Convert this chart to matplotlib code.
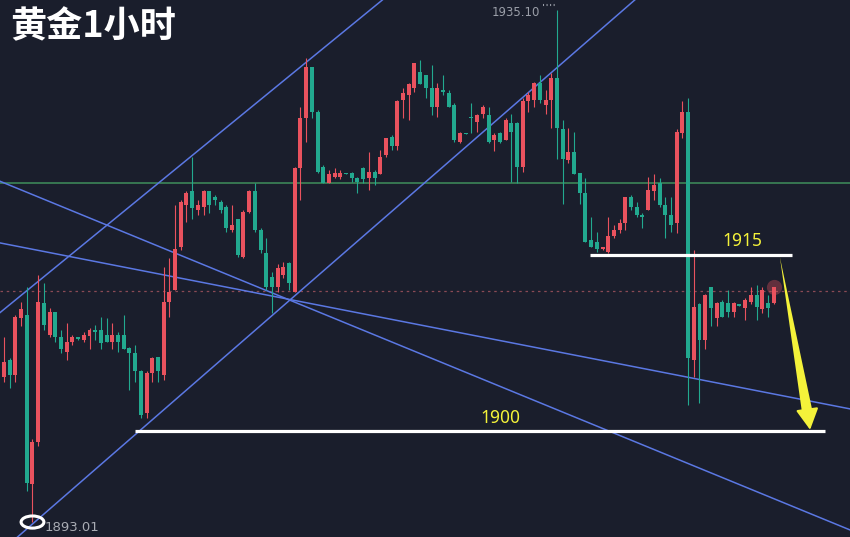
import numpy as np
import matplotlib.pyplot as plt
from matplotlib.patches import Ellipse

opens = [1904.9, 1906.3, 1905.1, 1909.8, 1910.0, 1896.1, 1899.6, 1911.0, 1908.4, 1910.3,
         1908.2, 1907.0, 1907.8, 1908.2, 1908.0, 1908.3, 1908.8, 1908.8, 1908.4, 1907.8,
         1908.4, 1908.4, 1907.3, 1906.9, 1905.4, 1902.0, 1905.3, 1906.6, 1905.1, 1911.1,
         1912.1, 1915.6, 1919.1, 1920.2, 1918.7, 1918.9, 1920.2, 1919.7, 1919.3, 1918.9,
         1917.0, 1917.9, 1914.8, 1918.5, 1920.2, 1917.0, 1915.1, 1913.2, 1912.3, 1913.3,
         1914.3, 1911.9, 1922.1, 1926.2, 1930.4, 1926.7, 1922.2, 1920.9, 1921.4, 1921.4,
         1921.7, 1921.7, 1921.3, 1922.1, 1921.3, 1921.8, 1921.6, 1923.2, 1924.7, 1923.9,
         1927.7, 1928.1, 1928.7, 1930.0, 1929.8, 1928.7, 1927.1, 1928.5, 1928.3, 1927.3,
         1924.3, 1925.0, 1926.3, 1925.9, 1926.6, 1926.5, 1924.4, 1925.0, 1924.4, 1925.8,
         1925.8, 1922.2, 1927.6, 1927.7, 1929.1, 1927.3, 1927.7, 1929.5, 1925.3, 1922.8,
         1923.4, 1921.7, 1920.1, 1916.2, 1916.0, 1915.5, 1915.2, 1916.5, 1917.0, 1917.6,
         1919.7, 1918.9, 1918.3, 1918.7, 1920.2, 1920.9, 1919.1, 1918.3, 1917.6, 1925.0,
         1926.7, 1906.3, 1910.9, 1908.0, 1912.3, 1909.8, 1911.1, 1911.0, 1910.3, 1910.9,
         1910.6, 1911.1, 1911.7, 1910.5, 1911.0, 1911.0]

highs = [1908.2, 1906.5, 1910.0, 1911.1, 1912.3, 1899.8, 1913.3, 1912.7, 1910.6, 1910.3,
         1908.8, 1909.4, 1908.4, 1908.2, 1908.6, 1909.0, 1909.2, 1909.9, 1909.8, 1909.4,
         1908.6, 1910.0, 1907.4, 1907.6, 1905.5, 1905.4, 1906.6, 1906.6, 1914.0, 1914.7,
         1919.1, 1919.5, 1920.2, 1923.0, 1919.5, 1920.3, 1920.2, 1919.9, 1919.5, 1919.1,
         1919.1, 1917.9, 1918.7, 1920.3, 1920.9, 1917.2, 1916.4, 1913.6, 1914.2, 1914.4,
         1914.4, 1922.2, 1927.1, 1931.2, 1930.4, 1926.9, 1922.4, 1922.0, 1922.1, 1922.0,
         1921.7, 1921.8, 1921.4, 1922.2, 1923.4, 1922.0, 1923.6, 1924.6, 1924.8, 1927.7,
         1928.7, 1929.1, 1930.8, 1931.0, 1929.8, 1930.6, 1929.1, 1929.8, 1928.5, 1927.5,
         1925.1, 1925.0, 1927.5, 1926.6, 1927.3, 1927.1, 1925.0, 1925.1, 1926.2, 1926.6,
         1925.9, 1927.9, 1928.4, 1929.2, 1929.8, 1928.5, 1929.9, 1935.1, 1926.1, 1925.4,
         1925.1, 1921.7, 1921.3, 1918.1, 1916.9, 1915.6, 1918.1, 1917.4, 1917.9, 1919.7,
         1919.9, 1919.3, 1918.4, 1921.4, 1921.6, 1921.3, 1919.7, 1919.7, 1925.3, 1927.6,
         1927.9, 1915.4, 1911.0, 1911.8, 1912.3, 1911.1, 1911.3, 1912.1, 1911.1, 1910.9,
         1911.4, 1912.3, 1912.5, 1912.3, 1911.7, 1912.3]

lows = [1904.5, 1904.0, 1904.5, 1909.1, 1895.6, 1893.01, 1899.3, 1908.8, 1908.2, 1907.8,
        1906.9, 1906.3, 1907.6, 1908.0, 1907.8, 1907.2, 1908.0, 1907.2, 1907.8, 1907.2,
        1907.0, 1907.2, 1903.9, 1904.5, 1901.6, 1901.6, 1904.5, 1904.5, 1904.7, 1909.9,
        1912.1, 1915.4, 1917.7, 1917.9, 1918.3, 1918.3, 1918.4, 1919.1, 1918.4, 1916.9,
        1916.9, 1914.8, 1914.7, 1918.4, 1916.9, 1915.1, 1912.1, 1910.2, 1911.9, 1913.1,
        1912.1, 1911.9, 1919.5, 1924.3, 1926.2, 1921.7, 1920.9, 1920.9, 1921.3, 1921.2,
        1921.6, 1921.0, 1920.1, 1920.9, 1920.3, 1920.7, 1921.6, 1923.0, 1923.6, 1923.6,
        1926.2, 1926.1, 1928.4, 1929.0, 1927.9, 1926.5, 1926.3, 1928.1, 1927.1, 1924.3,
        1924.2, 1924.9, 1925.0, 1925.1, 1926.2, 1924.2, 1923.5, 1924.2, 1924.4, 1921.0,
        1920.9, 1921.8, 1926.7, 1927.1, 1927.5, 1926.6, 1925.4, 1922.9, 1919.2, 1922.5,
        1921.6, 1919.2, 1916.0, 1915.6, 1915.2, 1915.4, 1915.1, 1916.4, 1916.8, 1917.0,
        1918.7, 1918.1, 1917.2, 1918.7, 1919.5, 1918.9, 1916.4, 1916.9, 1916.8, 1924.6,
        1902.6, 1904.9, 1902.8, 1907.2, 1909.1, 1909.1, 1909.9, 1909.9, 1909.9, 1910.8,
        1909.6, 1910.9, 1909.6, 1910.2, 1909.9, 1910.9]

closes = [1906.2, 1905.1, 1909.9, 1910.5, 1896.2, 1899.6, 1911.1, 1909.2, 1910.3, 1908.2,
          1907.2, 1907.8, 1908.2, 1908.1, 1908.4, 1908.8, 1908.6, 1907.7, 1907.8, 1908.4,
          1907.8, 1907.2, 1906.9, 1905.4, 1901.8, 1905.3, 1906.5, 1905.4, 1911.1, 1911.9,
          1915.5, 1919.3, 1920.1, 1918.8, 1919.1, 1920.2, 1919.1, 1919.5, 1918.7, 1917.2,
          1917.4, 1915.0, 1918.5, 1920.2, 1917.0, 1915.4, 1912.3, 1912.3, 1913.9, 1914.0,
          1912.7, 1922.1, 1926.2, 1930.4, 1926.7, 1921.8, 1920.9, 1921.6, 1921.7, 1921.7,
          1921.6, 1921.3, 1921.0, 1921.2, 1921.8, 1921.3, 1923.0, 1924.6, 1923.9, 1927.6,
          1928.3, 1929.0, 1930.8, 1929.0, 1928.7, 1927.1, 1928.7, 1928.4, 1927.1, 1924.4,
          1925.0, 1924.9, 1926.2, 1926.5, 1927.1, 1924.3, 1924.8, 1924.3, 1926.1, 1925.1,
          1922.2, 1927.6, 1928.1, 1929.1, 1927.7, 1927.7, 1929.5, 1925.4, 1922.9, 1923.4,
          1921.6, 1920.1, 1916.0, 1915.6, 1915.5, 1915.5, 1916.5, 1917.0, 1917.6, 1919.7,
          1918.9, 1918.3, 1918.1, 1920.3, 1920.7, 1919.1, 1918.3, 1917.4, 1925.1, 1926.7,
          1906.5, 1910.7, 1908.0, 1911.7, 1910.6, 1911.0, 1909.9, 1910.3, 1911.0, 1910.8,
          1911.3, 1911.7, 1910.7, 1912.1, 1910.6, 1912.3]

# trend lines: two anchor points (bar index, price)
trend_lines = [((0, 1910.5), (60, 1933.5)),
               ((24, 1900.6), (100, 1931.6)),
               ((0, 1915.9), (130, 1904.0)),
               ((0, 1920.9), (130, 1895.9))]
green_level = 1920.9
last_price_line = 1912.0
level_1915 = 1915.0
level_1900 = 1900.5
high_label = "1935.10"
low_label = "1893.01"

bg = "#1a1e2c"
up_color = "#e9525e"
down_color = "#22a98f"
blue = "#5b78e3"
yellow = "#f4f23a"

fig = plt.figure(figsize=(8.5, 5.37), dpi=100, facecolor=bg)
ax = fig.add_axes([0, 0, 1, 1])
ax.set_facecolor(bg)
ax.set_xlim(-0.7, 148.4)
ax.set_ylim(1891.78, 1935.94)
ax.axis("off")

o = np.array(opens)
h = np.array(highs)
l = np.array(lows)
c = np.array(closes)
idx = np.arange(len(o))
colors = np.where(c >= o, up_color, down_color)

# horizontal reference lines
ax.axhline(green_level, color="#3f8f5c", lw=1.1, zorder=1)
ax.axhline(last_price_line, color="#8a4a55", lw=0.9, ls=(0, (2, 3)), zorder=1)

for p1, p2 in trend_lines:
    ax.axline(p1, p2, color=blue, lw=1.1, zorder=1)

# candles
ax.vlines(idx, l, h, colors=colors, lw=0.8, zorder=2)
body = np.maximum(np.abs(c - o), 0.1)
ax.bar(idx, body, bottom=np.minimum(o, c), width=0.7, color=colors, lw=0, zorder=3)
ax.scatter([idx[-1]], [c[-1]], s=120, color=up_color, alpha=0.35, lw=0, zorder=2)

# support / resistance
ax.hlines(level_1915, 102.8, 138.2, color="white", lw=2.3, zorder=4)
ax.hlines(level_1900, 23, 144, color="white", lw=2.3, zorder=4)
ax.text(129.6, 1915.35, "1915", color=yellow, fontsize=12.5, ha="center", va="bottom",
        family="Noto Sans", fontweight="medium", zorder=5)
ax.text(87, 1900.85, "1900", color=yellow, fontsize=12.5, ha="center", va="bottom",
        family="Noto Sans", fontweight="medium", zorder=5)

# yellow arrow: tapered shaft plus head
ax.annotate("", xy=(136.1, 1914.8), xytext=(140.85, 1902.2),
            arrowprops=dict(arrowstyle="wedge,tail_width=0.75,shrink_factor=0.5",
                            color=yellow, lw=0, shrinkA=0, shrinkB=0), zorder=5)
ax.annotate("", xy=(141.4, 1900.6), xytext=(140.8, 1902.6),
            arrowprops=dict(arrowstyle="-|>,head_width=0.35,head_length=0.65",
                            color=yellow, lw=1.5, mutation_scale=20,
                            shrinkA=0, shrinkB=0), zorder=5)

# high / low marks
ax.text(94.0, 1934.9, high_label, color="#9a9ea8", fontsize=8.5, ha="right", va="center")
ax.hlines(1935.5, 94.6, 96.7, color="#9a9ea8", lw=1.5, ls=(0, (0.5, 1.2)))
ax.text(7.2, 1892.6, low_label, color="#a9acb4", fontsize=9.5, ha="left", va="center")
ax.add_patch(Ellipse((5, 1893.01), 4.0, 1.0, fill=False, ec="white", lw=2.2, zorder=6))

fig.text(0.012, 0.985, "黄金1小时", ha="left", va="top", fontsize=26, color="white",
         fontweight="bold", family=["Noto Sans CJK SC", "DejaVu Sans"])

fig.savefig("out.png", dpi=100, facecolor=bg)
